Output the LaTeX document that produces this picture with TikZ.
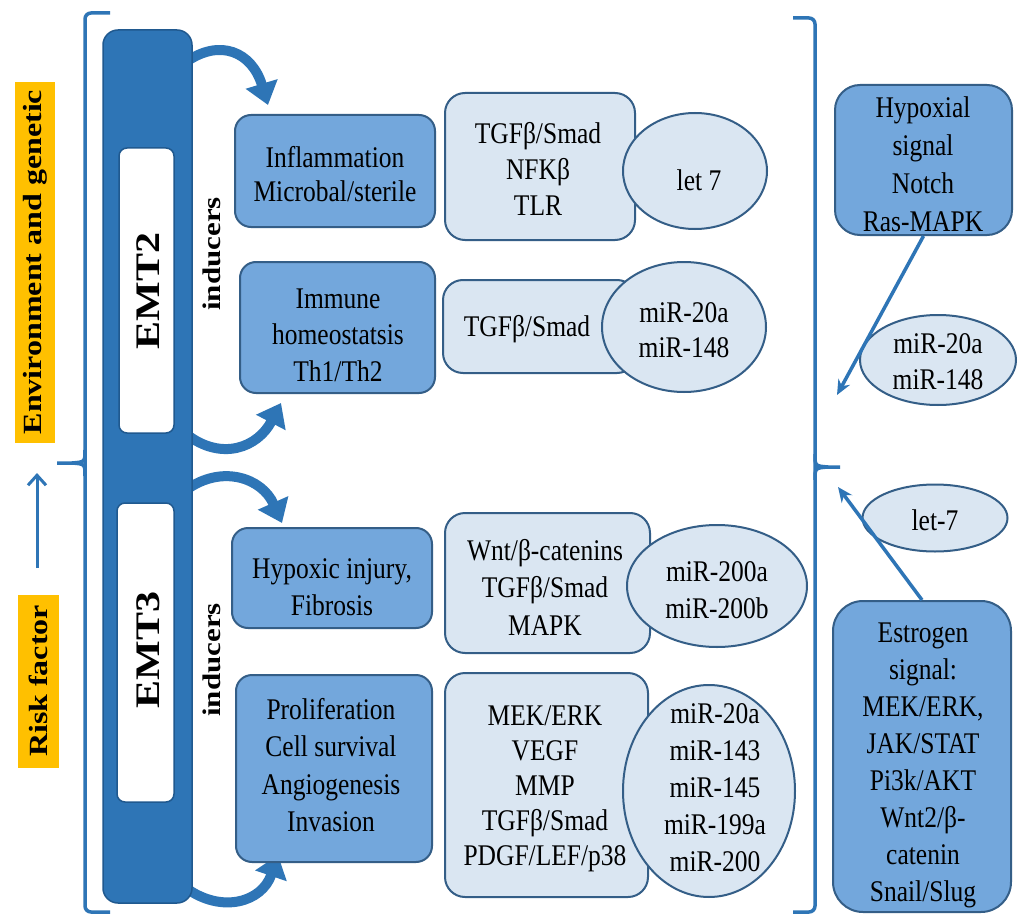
\documentclass[tikz,border=0pt]{standalone}
\usepackage{fontspec}
\setmainfont{Liberation Serif}
\usetikzlibrary{shapes.geometric,arrows.meta}
\definecolor{barblue}{RGB}{46,117,182}
\definecolor{bardark}{RGB}{32,89,143}
\definecolor{midblue}{RGB}{115,167,220}
\definecolor{lightblue}{RGB}{218,230,242}
\definecolor{edgecol}{RGB}{52,94,135}
\definecolor{yellowlab}{RGB}{255,192,0}
\tikzset{
  midbox/.style={draw=edgecol, line width=2pt, fill=midblue, rounded corners=16pt, inner sep=0pt},
  lightbox/.style={draw=edgecol, line width=2pt, fill=lightblue, rounded corners=20pt, inner sep=0pt},
  lightell/.style={ellipse, draw=edgecol, line width=2pt, fill=lightblue, inner sep=0pt},
  txt/.style={align=center, inner sep=0pt, text=black, xscale=0.85,
    font=\fontsize{30}{#1}\selectfont},
  txt/.default=37,
  ylab/.style={fill=yellowlab, inner sep=0pt},
  ylabtxt/.style={xscale=0.82, rotate=90, inner sep=0pt, font=\fontsize{32}{32}\selectfont\bfseries},
  emtbar/.style={draw=bardark, line width=1.5pt, fill=barblue, rounded corners=15pt, inner sep=0pt},
  emtwhite/.style={draw=bardark, line width=1.5pt, fill=white, rounded corners=8pt, inner sep=0pt},
  emttxt/.style={xscale=0.82, rotate=90, inner sep=0pt, font=\fontsize{42}{42}\selectfont\bfseries},
  indtxt/.style={xscale=0.82, rotate=90, inner sep=0pt, font=\fontsize{31}{31}\selectfont\bfseries},
  fatarrow/.style={draw=barblue, line width=10pt, -{Triangle[length=22pt,width=32pt]}},
  brk/.style={draw=barblue, line width=3.5pt, rounded corners=6pt},
  thinarrow/.style={draw=barblue, line width=3.5pt, -{Stealth[length=15pt,width=13pt]}},
  uparrow/.style={draw=barblue, line width=3pt, -{Straight Barb[length=10pt,width=18pt]}}
}
\begin{document}
\lineskiplimit=-20pt
\begin{tikzpicture}[x=1pt,y=-1pt]
\useasboundingbox (0,0) rectangle (1018,915);
\fill[white] (0,0) rectangle (1018,915);

% brackets
\draw[brk] (110,13) -- (85,13) -- (85,912) -- (110,912);
\draw[draw=barblue, line width=3.5pt] (85,450) .. controls (85,462) .. (72,463) -- (57,463);
\draw[draw=barblue, line width=3.5pt] (85,476) .. controls (85,464) .. (72,463);
\draw[brk] (793,18) -- (815,18) -- (815,912) -- (793,912);
\draw[draw=barblue, line width=3.5pt] (815,454) .. controls (815,466) .. (828,467) -- (840,467);
\draw[draw=barblue, line width=3.5pt] (815,480) .. controls (815,468) .. (828,467);

% yellow labels
\node[ylab, minimum width=40pt, minimum height=361pt] (envbox) at (35,262.5) {};
\node[ylabtxt] (envtxt) at (35,262) {Environment and genetic};
\node[ylab, minimum width=41pt, minimum height=173pt] (riskbox) at (38.5,681.5) {};
\node[ylabtxt] (risktxt) at (38.5,681) {Risk factor};
\coordinate (riskstart) at (37,568);
\coordinate (riskup) at (37,473);
\draw[uparrow] (riskstart) -- (riskup);

% curved block arrows (behind the bar)
\coordinate (c1) at (268,105);
\coordinate (c2) at (281,403);
\coordinate (c3) at (282,523);
\coordinate (c4) at (278,855);
\draw[fatarrow] (186,62) .. controls (220,38) and (252,52) .. (c1);
\draw[fatarrow] (186,434) .. controls (222,462) and (258,447) .. (c2);
\draw[fatarrow] (186,490) .. controls (222,464) and (262,478) .. (c3);
\draw[fatarrow] (186,888) .. controls (222,914) and (262,902) .. (c4);

% EMT bar
\node[emtbar, minimum width=89pt, minimum height=873pt] (bar) at (147.5,466.5) {};
\node[emtwhite, minimum width=55pt, minimum height=285pt] (emt2box) at (146.5,290.5) {};
\node[emttxt] (emt2) at (148,291) {EMT2};
\node[emtwhite, minimum width=57pt, minimum height=299pt] (emt3box) at (145.5,652.5) {};
\node[emttxt] (emt3) at (148,650) {EMT3};
\node[indtxt] (ind2) at (212,254) {inducers};
\node[indtxt] (ind3) at (212,660) {inducers};

% left column boxes
\node[midbox, minimum width=200pt, minimum height=112pt] (infl) at (335,171) {};
\node[txt=34] (inflt) at (335,174) {Inflammation\\Microbal/sterile};
\node[midbox, minimum width=195pt, minimum height=131pt] (imm) at (337.5,327.5) {};
\node[txt=36.5] (immt) at (338,335) {Immune\\homeostatsis\\Th1/Th2};
\node[midbox, minimum width=200pt, minimum height=100pt] (hyp) at (332,578) {};
\node[txt] (hypt) at (332,587) {Hypoxic injury,\\Fibrosis};
\node[midbox, minimum width=196pt, minimum height=187pt] (prol) at (334,768.5) {};
\node[txt=37.5] (prolt) at (331,765) {Proliferation\\Cell survival\\Angiogenesis\\Invasion};

% middle boxes
\node[lightbox, minimum width=190pt, minimum height=147pt] (m1) at (540,166.5) {};
\node[txt=36] (m1t) at (538,169) {TGFβ/Smad\\NFKβ\\TLR};
\node[lightbox, minimum width=194pt, minimum height=93pt] (m2) at (540,326.5) {};
\node[txt] (m2t) at (527,329) {TGFβ/Smad};
\node[lightbox, minimum width=205pt, minimum height=140pt] (m3) at (547.5,583) {};
\node[txt=37.5] (m3t) at (545,587) {Wnt/β-catenins\\TGFβ/Smad\\MAPK};
\node[lightbox, minimum width=203pt, minimum height=224pt] (m4) at (546.5,785) {};
\node[txt=35] (m4t) at (545,789) {MEK/ERK\\VEGF\\MMP\\TGFβ/Smad\\PDGF/LEF/p38};

% ellipses
\node[lightell, minimum width=144pt, minimum height=116pt] (e1) at (695,171) {};
\node[txt] (e1t) at (699,180) {let 7};
\node[lightell, minimum width=164pt, minimum height=130pt] (e2) at (684,327) {};
\node[txt=35] (e2t) at (684,330) {miR-20a\\miR-148};
\node[lightell, minimum width=180pt, minimum height=122pt] (e3) at (717,586) {};
\node[txt=37] (e3t) at (717,590) {miR-200a\\miR-200b};
\node[lightell, minimum width=172pt, minimum height=212pt] (e4) at (709,791) {};
\node[txt=37] (e4t) at (715,788) {miR-20a\\miR-143\\miR-145\\miR-199a\\miR-200};

% right side
\node[midbox, rounded corners=25pt, minimum width=177pt, minimum height=150pt] (hypx) at (923.5,160) {};
\node[txt=38] (hypxt) at (923,164) {Hypoxial\\signal\\Notch\\Ras-MAPK};
\node[lightell, minimum width=156pt, minimum height=90pt] (re) at (938,360) {};
\node[txt=36] (ret) at (938,362) {miR-20a\\miR-148};
\coordinate (a1end) at (837,395);
\draw[thinarrow] (hypx.south) -- (a1end);

\node[lightell, minimum width=145pt, minimum height=67pt] (rl7) at (935,518) {};
\node[txt] (rl7t) at (935,520) {let-7};
\node[midbox, rounded corners=30pt, minimum width=178pt, minimum height=311pt] (estr) at (922,756.5) {};
\node[txt=37] (estrt) at (923,765) {Estrogen\\signal:\\MEK/ERK,\\JAK/STAT\\Pi3k/AKT\\Wnt2/β-\\catenin\\Snail/Slug};
\coordinate (a2end) at (838,487);
\draw[thinarrow] (estr.north) -- (a2end);
\end{tikzpicture}
\end{document}
